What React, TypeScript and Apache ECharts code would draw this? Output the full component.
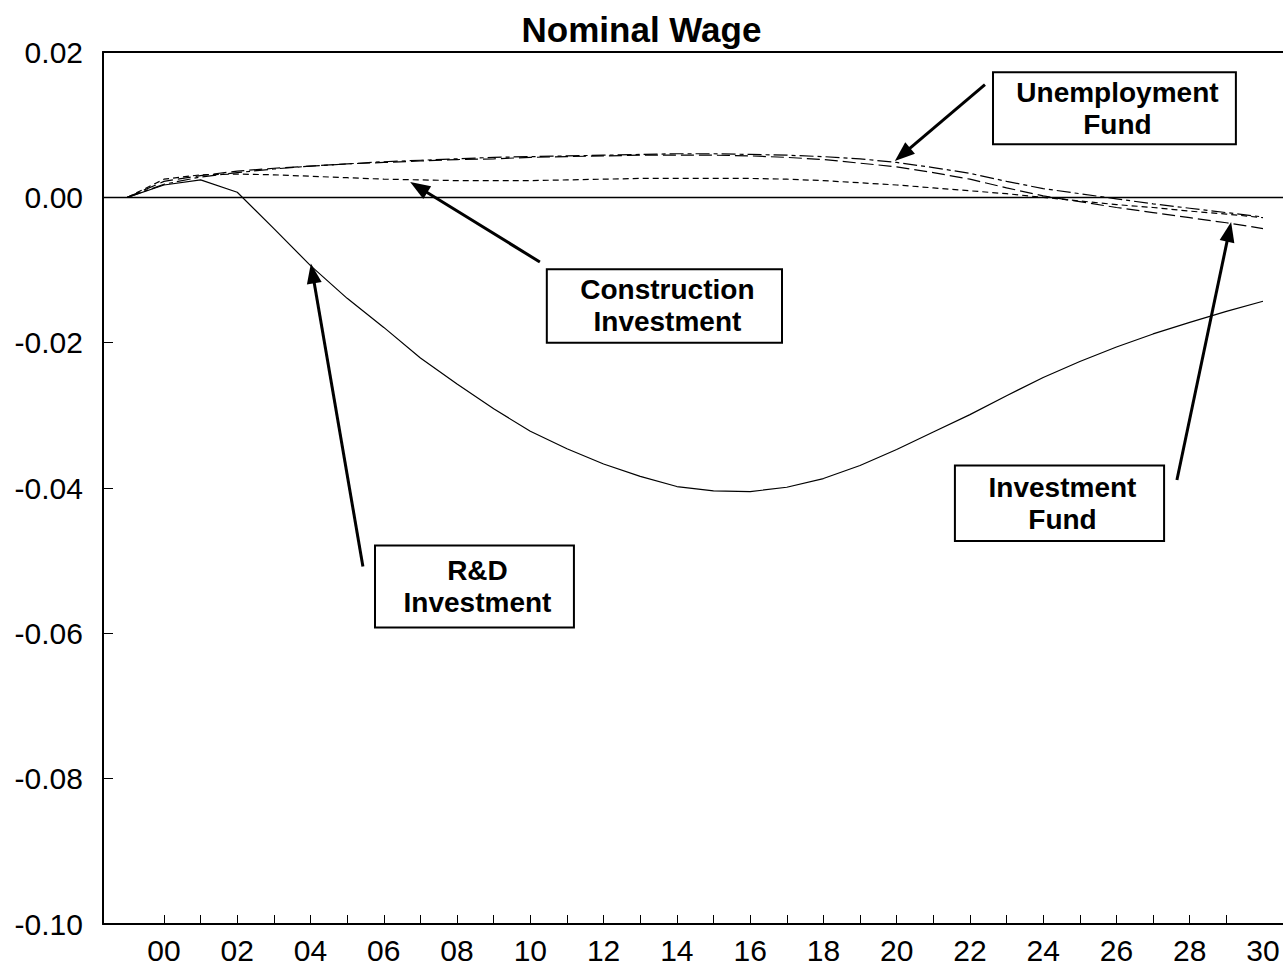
import React, { useEffect, useRef } from "react";
import * as echarts from "echarts";

const years = [1999, 2000, 2001, 2002, 2003, 2004, 2005, 2006, 2007, 2008, 2009, 2010, 2011, 2012, 2013, 2014, 2015, 2016, 2017, 2018, 2019, 2020, 2021, 2022, 2023, 2024, 2025, 2026, 2027, 2028, 2029, 2030];

const rdInvestment = [0, 0.0017, 0.0024, 0.0007, -0.0043, -0.0094, -0.0139, -0.0179, -0.0221, -0.0257, -0.0291, -0.0322, -0.0346, -0.0367, -0.0384, -0.0398, -0.0404, -0.0405, -0.0399, -0.0387, -0.0369, -0.0347, -0.0323, -0.0299, -0.0273, -0.0248, -0.0226, -0.0206, -0.0188, -0.0172, -0.0157, -0.0143];

const constructionInvestment = [0, 0.0025, 0.0031, 0.0032, 0.0031, 0.0029, 0.0027, 0.0025, 0.0024, 0.0023, 0.0023, 0.0023, 0.0024, 0.0025, 0.0026, 0.0026, 0.0026, 0.0026, 0.0025, 0.0023, 0.002, 0.0017, 0.0013, 0.0009, 0.0005, 0.0, -0.0005, -0.001, -0.0014, -0.0019, -0.0023, -0.0028];

const unemploymentFund = [0, 0.0018, 0.0028, 0.0034, 0.0039, 0.0043, 0.0046, 0.0049, 0.0051, 0.0053, 0.0055, 0.0056, 0.0057, 0.0058, 0.0059, 0.006, 0.006, 0.0059, 0.0058, 0.0056, 0.0053, 0.0048, 0.0041, 0.0033, 0.0022, 0.0012, 0.0005, -0.0002, -0.0009, -0.0015, -0.0021, -0.0027];

const investmentFund = [0, 0.0022, 0.003, 0.0036, 0.004, 0.0043, 0.0046, 0.0048, 0.005, 0.0052, 0.0053, 0.0055, 0.0056, 0.0057, 0.0058, 0.0058, 0.0058, 0.0057, 0.0055, 0.0052, 0.0047, 0.0042, 0.0034, 0.0025, 0.0013, 0.0002, -0.0006, -0.0014, -0.0021, -0.0028, -0.0035, -0.0043];

const xTickYears = [2000, 2001, 2002, 2003, 2004, 2005, 2006, 2007, 2008, 2009, 2010, 2011, 2012, 2013, 2014, 2015, 2016, 2017, 2018, 2019, 2020, 2021, 2022, 2023, 2024, 2025, 2026, 2027, 2028, 2029];
const xLabelYears = [2000, 2002, 2004, 2006, 2008, 2010, 2012, 2014, 2016, 2018, 2020, 2022, 2024, 2026, 2028, 2030];

type Note = {
  lines: string[];
  tip: [number, number];
  tail: [number, number];
  box: [number, number, number, number]; // x1, y1, x2, y2 in data coords
};

const notes: Note[] = [
  { lines: ["Unemployment", "Fund"], tip: [2019.95, 0.005], tail: [2022.41, 0.0155], box: [2022.63, 0.0172, 2029.26, 0.0073] },
  { lines: ["Construction", "Investment"], tip: [2006.72, 0.0021], tail: [2010.26, -0.0089], box: [2010.45, -0.0099, 2016.87, -0.02] },
  { lines: ["R&D", "Investment"], tip: [2004.01, -0.0091], tail: [2005.43, -0.0508], box: [2005.76, -0.0479, 2011.19, -0.0592] },
  { lines: ["Investment", "Fund"], tip: [2029.13, -0.0034], tail: [2027.65, -0.0389], box: [2021.59, -0.0369, 2027.3, -0.0473] },
];

const FONT = "'Liberation Sans', Arial, Helvetica, sans-serif";

export default function App() {
  const ref = useRef<HTMLDivElement>(null);
  useEffect(() => {
    if (!ref.current) return;
    const chart = echarts.init(ref.current, undefined, { renderer: "svg" });
    const mk = (vals: number[]) => years.map((y, i) => [y, vals[i]]);
    const xMin = 1998.335;
    const xMax = 2030.546;
    chart.setOption({
      animation: false,
      backgroundColor: "#fff",
      title: {
        text: "Nominal Wage",
        left: "center",
        top: 7,
        textStyle: { fontFamily: FONT, fontSize: 35, fontWeight: "bold", color: "#000" },
      },
      grid: { left: 103, right: 0, top: 52, bottom: 47, containLabel: false },
      xAxis: [
        {
          type: "value",
          min: xMin,
          max: xMax,
          axisLine: { show: true, onZero: false, lineStyle: { color: "#000", width: 2 } },
          axisTick: { show: true, inside: true, length: 9, customValues: xTickYears, lineStyle: { color: "#000", width: 1 } },
          axisLabel: {
            show: true,
            customValues: xLabelYears,
            formatter: (v: number) => String(Math.round(v) % 100).padStart(2, "0"),
            fontFamily: FONT,
            fontSize: 30,
            color: "#000",
            margin: 11,
          },
          splitLine: { show: false },
        },
        {
          type: "value",
          position: "top",
          min: xMin,
          max: xMax,
          axisLine: { show: true, onZero: false, lineStyle: { color: "#000", width: 2 } },
          axisTick: { show: false },
          axisLabel: { show: false },
          splitLine: { show: false },
        },
      ],
      yAxis: {
        type: "value",
        min: -0.1,
        max: 0.02,
        interval: 0.02,
        axisLine: { show: true, onZero: false, lineStyle: { color: "#000", width: 2 } },
        axisTick: { show: true, inside: true, length: 10, lineStyle: { color: "#000", width: 1 } },
        axisLabel: {
          formatter: (v: number) => (Math.abs(v) < 1e-9 ? "0.00" : v.toFixed(2)),
          fontFamily: FONT,
          fontSize: 30,
          color: "#000",
          margin: 20,
        },
        splitLine: { show: false },
      },
      series: [
        {
          name: "R&D Investment",
          type: "line",
          data: mk(rdInvestment),
          symbol: "none",
          lineStyle: { color: "#000", width: 1.2, type: "solid" },
          markLine: {
            silent: true,
            symbol: "none",
            label: { show: false },
            lineStyle: { color: "#000", width: 1.3, type: "solid" },
            data: [{ yAxis: 0 }],
          },
        },
        {
          name: "Construction Investment",
          type: "line",
          data: mk(constructionInvestment),
          symbol: "none",
          lineStyle: { color: "#000", width: 1.2, type: [6, 4] },
        },
        {
          name: "Unemployment Fund",
          type: "line",
          data: mk(unemploymentFund),
          symbol: "none",
          lineStyle: { color: "#000", width: 1.2, type: [14, 4, 4, 4] },
        },
        {
          name: "Investment Fund",
          type: "line",
          data: mk(investmentFund),
          symbol: "none",
          lineStyle: { color: "#000", width: 1.2, type: [13, 5] },
        },
      ],
    });

    const px = (p: [number, number]) => chart.convertToPixel({ gridIndex: 0 }, p) as number[];
    const elements: any[] = [];
    notes.forEach((n) => {
      const a = px([n.box[0], n.box[1]]);
      const b = px([n.box[2], n.box[3]]);
      const x = Math.min(a[0], b[0]);
      const y = Math.min(a[1], b[1]);
      const w = Math.abs(b[0] - a[0]);
      const h = Math.abs(b[1] - a[1]);
      elements.push({
        type: "rect",
        shape: { x, y, width: w, height: h },
        style: { fill: "#fff", stroke: "#000", lineWidth: 2 },
        z: 100,
      });
      elements.push({
        type: "text",
        x: x + w / 2 + 3,
        y: y + h / 2,
        style: {
          text: n.lines.join("\n"),
          fontFamily: FONT,
          fontSize: 28,
          fontWeight: "bold",
          fill: "#000",
          align: "center",
          verticalAlign: "middle",
          lineHeight: 32,
        },
        z: 101,
      });
      const tip = px(n.tip);
      const tail = px(n.tail);
      const dx = tip[0] - tail[0];
      const dy = tip[1] - tail[1];
      const len = Math.sqrt(dx * dx + dy * dy);
      const ux = dx / len;
      const uy = dy / len;
      const headLen = 20;
      const headW = 7.5;
      const bx = tip[0] - ux * headLen;
      const by = tip[1] - uy * headLen;
      elements.push({
        type: "line",
        shape: { x1: tail[0], y1: tail[1], x2: bx + ux * 2, y2: by + uy * 2 },
        style: { stroke: "#000", lineWidth: 3 },
        z: 100,
      });
      elements.push({
        type: "polygon",
        shape: {
          points: [
            [tip[0], tip[1]],
            [bx - uy * headW, by + ux * headW],
            [bx + uy * headW, by - ux * headW],
          ],
        },
        style: { fill: "#000" },
        z: 100,
      });
    });
    chart.setOption({ graphic: elements });

    return () => chart.dispose();
  }, []);
  return (
    <div
      ref={ref}
      style={{ position: "absolute", left: 0, top: 0, width: 1283, height: 971 }}
    />
  );
}
